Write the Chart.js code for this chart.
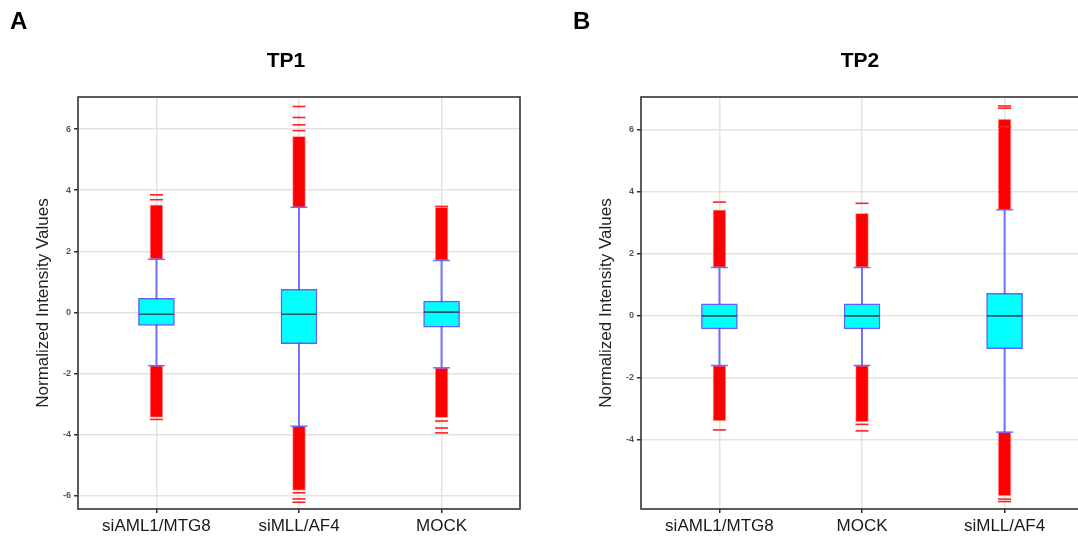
<!DOCTYPE html>
<html>
<head>
<meta charset="utf-8">
<script src="https://cdn.jsdelivr.net/npm/chart.js@4"></script>
<style>
  html, body { margin: 0; padding: 0; background: #fff; overflow: hidden; width: 1078px; height: 539px; position: relative; }
  .panel { position: absolute; top: 0; width: 540px; height: 539px; }
  #panelA { left: 0; }
  #panelB { left: 563px; }
</style>
</head>
<body>
<div class="panel" id="panelA"><canvas id="chartA" width="540" height="539"></canvas></div>
<div class="panel" id="panelB"><canvas id="chartB" width="540" height="539"></canvas></div>
<script>
// TP1 box plot summaries
var groupsA = ['siAML1/MTG8', 'siMLL/AF4', 'MOCK'];
var q1A = [-0.42, -1.02, -0.48];
var medianA = [-0.06, -0.06, 0.01];
var q3A = [0.46, 0.76, 0.37];
var whiskLoA = [-1.74, -3.72, -1.81];
var whiskHiA = [1.74, 3.44, 1.70];
var denseLoA = [-3.43, -5.82, -3.44];   // end of the packed outliers below
var denseHiA = [3.52, 5.76, 3.44];      // end of the packed outliers above
var sparseA = [
    [3.69, 3.85, -3.50],
    [5.95, 6.14, 6.38, 6.74, -5.90, -6.10, -6.21],
    [3.47, -3.55, -3.78, -3.94]
];
var yTicksA = [-6, -4, -2, 0, 2, 4, 6];

// TP2 box plot summaries
var groupsB = ['siAML1/MTG8', 'MOCK', 'siMLL/AF4'];
var q1B = [-0.42, -0.42, -1.06];
var medianB = [0.0, 0.0, 0.0];
var q3B = [0.39, 0.39, 0.73];
var whiskLoB = [-1.60, -1.60, -3.75];
var whiskHiB = [1.56, 1.56, 3.42];
var denseLoB = [-3.39, -3.42, -5.81];
var denseHiB = [3.42, 3.31, 6.35];
var sparseB = [
    [3.67, -3.68],
    [3.63, -3.50, -3.71],
    [6.10, 6.70, 6.77, -5.91, -5.99]
];
var yTicksB = [-4, -2, 0, 2, 4, 6];

var FONT = "'Liberation Sans', Arial, sans-serif";

// frame around the plot + panel letter and title
var panelPlugin = {
    id: 'panelText',
    afterDraw: function (chart, args, opts) {
        var ctx = chart.ctx, a = chart.chartArea;
        ctx.save();
        ctx.strokeStyle = '#333';
        ctx.lineWidth = 1.6;
        ctx.strokeRect(a.left, a.top, a.right - a.left, a.bottom - a.top);
        ctx.fillStyle = '#000';
        ctx.textBaseline = 'alphabetic';
        ctx.textAlign = 'left';
        ctx.font = 'bold 24px ' + FONT;
        ctx.fillText(opts.letter, opts.letterX, 29);
        ctx.textAlign = 'center';
        ctx.font = 'bold 21px ' + FONT;
        ctx.fillText(opts.title, opts.titleX, 67);
        ctx.restore();
    }
};

function makeBoxChart(id, groups, q1, med, q3, wLo, wHi, dLo, dHi, sparse, yTicks, yMin, yMax, letter, title, titleX) {
    var whiskers = [], caps = [], dense = [], boxes = [], medians = [], outl = [];
    groups.forEach(function (g, i) {
        var x = i + 1;
        whiskers.push({ x: x, y: [wLo[i], wHi[i]] });
        caps.push({ x: x, y: wLo[i] }, { x: x, y: wHi[i] });
        dense.push({ x: x, y: [wHi[i], dHi[i]] }, { x: x, y: [dLo[i], wLo[i]] });
        boxes.push({ x: x, y: [q1[i], q3[i]] });
        medians.push({ x: x, y: med[i] });
        sparse[i].forEach(function (v) { outl.push({ x: x, y: v }); });
    });

    return new Chart(document.getElementById(id).getContext('2d'), {
        type: 'bar',
        data: {
            datasets: [
                { type: 'bar', data: whiskers, backgroundColor: 'rgba(85,85,255,0.8)', barThickness: 1.4, grouped: false, order: 6 },
                { type: 'bar', data: dense, backgroundColor: '#ff0000', borderColor: 'rgba(255,110,110,0.55)', borderWidth: 1,
                  borderSkipped: false, barThickness: 13, grouped: false, order: 5 },
                { type: 'scatter', data: outl, pointStyle: 'line', pointRadius: 6.5, borderColor: '#ff2020', borderWidth: 1.6, order: 4 },
                { type: 'scatter', data: caps, pointStyle: 'line', pointRadius: 8.5, borderColor: 'rgba(90,90,255,0.85)', borderWidth: 1.5, order: 3 },
                { type: 'bar', data: boxes, backgroundColor: '#00ffff', borderColor: 'rgba(70,70,255,0.85)', borderWidth: 1.5,
                  borderSkipped: false, barThickness: 36, grouped: false, order: 2 },
                { type: 'scatter', data: medians, pointStyle: 'line', pointRadius: 17.5, borderColor: '#1d5a5a', borderWidth: 1.6, order: 1 }
            ]
        },
        options: {
            responsive: false,
            animation: false,
            layout: { padding: { top: 97, right: 20, left: 0, bottom: 0 } },
            plugins: {
                legend: { display: false },
                tooltip: { enabled: false },
                panelText: { letter: letter, title: title, letterX: 10, titleX: titleX }
            },
            scales: {
                x: {
                    type: 'linear',
                    offset: false,
                    min: 0.45,
                    max: 3.55,
                    afterBuildTicks: function (scale) {
                        scale.ticks = groups.map(function (g, i) { return { value: i + 1 }; });
                    },
                    afterFit: function (scale) { scale.height = 30; },
                    ticks: {
                        callback: function (v) { return groups[v - 1]; },
                        font: { family: FONT, size: 17 },
                        color: '#1a1a1a',
                        padding: 3,
                        maxRotation: 0
                    },
                    grid: { offset: false, color: '#e3e3e3', lineWidth: 1.5, tickLength: 4, tickColor: '#333' },
                    border: { display: false }
                },
                y: {
                    min: yMin,
                    max: yMax,
                    afterBuildTicks: function (scale) {
                        scale.ticks = yTicks.map(function (v) { return { value: v }; });
                    },
                    afterFit: function (scale) { scale.width = 78; },
                    ticks: {
                        font: { family: FONT, size: 9, weight: 'bold' },
                        color: '#555',
                        padding: 3
                    },
                    title: {
                        display: true,
                        text: 'Normalized Intensity Values',
                        font: { family: FONT, size: 17 },
                        color: '#222',
                        padding: { top: 33, bottom: 0 }
                    },
                    grid: { color: '#e3e3e3', lineWidth: 1.5, tickLength: 4, tickColor: '#333' },
                    border: { display: false }
                }
            }
        },
        plugins: [panelPlugin]
    });
}

document.addEventListener('DOMContentLoaded', function () {
    makeBoxChart('chartA', groupsA, q1A, medianA, q3A, whiskLoA, whiskHiA, denseLoA, denseHiA, sparseA,
        yTicksA, -6.43, 7.05, 'A', 'TP1', 286);
    makeBoxChart('chartB', groupsB, q1B, medianB, q3B, whiskLoB, whiskHiB, denseLoB, denseHiB, sparseB,
        yTicksB, -6.23, 7.06, 'B', 'TP2', 297);
});
</script>
</body>
</html>
